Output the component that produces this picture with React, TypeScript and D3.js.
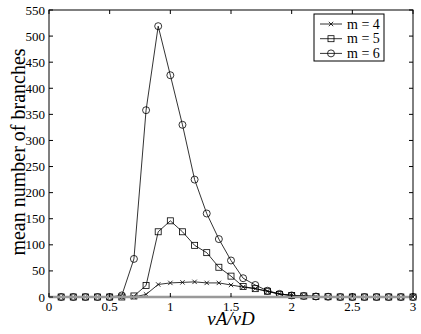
import React from "react";
import * as d3 from "d3";

const xs = [0.1, 0.2, 0.3, 0.4, 0.5, 0.6, 0.7, 0.8, 0.9, 1.0, 1.1, 1.2, 1.3, 1.4, 1.5, 1.6, 1.7, 1.8, 1.9, 2.0, 2.1, 2.2, 2.3, 2.4, 2.5, 2.6, 2.7, 2.8, 2.9, 3.0];
const m4 = [0, 0, 0, 0, 0, 0, 0, 5, 24, 27, 28, 29, 27, 27, 23, 19, 16, 11, 6, 3, 2, 1, 0.5, 0, 0, 0, 0, 0, 0, 0];
const m5 = [0, 0, 0, 0, 0, 0, 2, 22, 125, 146, 125, 99, 85, 57, 40, 20, 16, 11, 5, 3, 2, 1, 0.5, 0, 0, 0, 0, 0, 0, 0];
const m6 = [0, 0, 0, 0, 0, 3, 73, 358, 519, 425, 330, 225, 160, 111, 70, 36, 23, 12, 6, 3, 2, 1, 0.5, 0, 0, 0, 0, 0, 0, 0];
const xTicks = [0, 0.5, 1, 1.5, 2, 2.5, 3];
const yTicks = [0, 50, 100, 150, 200, 250, 300, 350, 400, 450, 500, 550];
const seriesNames = ["m = 4", "m = 5", "m = 6"];

const font = '"Liberation Serif"';

const Marker = ({ kind, x, y }: { kind: number; x: number; y: number }) => {
  if (kind === 0) {
    return (
      <path
        d={`M${x - 2.2},${y - 2.2}L${x + 2.2},${y + 2.2}M${x - 2.2},${y + 2.2}L${x + 2.2},${y - 2.2}`}
        stroke="#000"
        strokeWidth={0.8}
      />
    );
  }
  if (kind === 1) {
    return <rect x={x - 3} y={y - 3} width={6} height={6} fill="none" stroke="#000" strokeWidth={0.8} />;
  }
  return <circle cx={x} cy={y} r={3.5} fill="none" stroke="#000" strokeWidth={0.8} />;
};

export default function App() {
  const left = 49, right = 413, top = 10, bottom = 297;
  const x = d3.scaleLinear().domain([0, 3]).range([left, right]);
  const y = d3.scaleLinear().domain([0, 550]).range([bottom, top]);
  const series = [m4, m5, m6];
  const line = d3
    .line<number>()
    .x((_, i) => x(xs[i]))
    .y((d) => y(d));

  return (
    <div style={{ position: "absolute", left: 0, top: 0 }}>
      <svg width={421} height={334} style={{ display: "block", background: "#fff", fontFamily: font }}>
        {/* data */}
        {series.map((s, k) => (
          <g key={k}>
            <path d={line(s) || ""} fill="none" stroke="#000" strokeWidth={0.8} />
            {s.map((v, i) => (
              <Marker key={i} kind={k} x={x(xs[i])} y={y(v)} />
            ))}
          </g>
        ))}

        {/* frame */}
        <rect x={left} y={top} width={right - left} height={bottom - top} fill="none" stroke="#000" strokeWidth={1} />
        <line x1={left} x2={right} y1={bottom} y2={bottom} stroke="#999" strokeWidth={2.5} />

        {/* x ticks */}
        {xTicks.map((t) => (
          <g key={t}>
            <line x1={x(t)} x2={x(t)} y1={bottom} y2={bottom - 4} stroke="#000" />
            <line x1={x(t)} x2={x(t)} y1={top} y2={top + 4} stroke="#000" />
            <text x={x(t)} y={310.5} textAnchor="middle" fontSize={13} style={{ fontFamily: font }}>
              {t}
            </text>
          </g>
        ))}

        {/* y ticks */}
        {yTicks.map((t) => (
          <g key={t}>
            <line x1={left} x2={left + 4} y1={y(t)} y2={y(t)} stroke="#000" />
            <line x1={right} x2={right - 4} y1={y(t)} y2={y(t)} stroke="#000" />
            <text x={left - 4} y={y(t) + 4.5} textAnchor="end" fontSize={13} style={{ fontFamily: font }}>
              {t}
            </text>
          </g>
        ))}

        {/* axis titles */}
        <text x={231} y={324.5} textAnchor="middle" fontSize={19} fontStyle="italic" style={{ fontFamily: font }}>
          vA/vD
        </text>
        <text
          transform={`translate(25,152) rotate(-90)`}
          textAnchor="middle"
          fontSize={20}
          style={{ fontFamily: font }}
        >
          mean number of branches
        </text>

        {/* legend */}
        <rect x={314} y={14} width={70} height={47} fill="#fff" stroke="#000" strokeWidth={1} />
        {seriesNames.map((n, k) => {
          const ly = 24 + k * 14.7;
          return (
            <g key={n}>
              <line x1={320} x2={342} y1={ly} y2={ly} stroke="#000" strokeWidth={0.8} />
              <Marker kind={k} x={331} y={ly} />
              <text x={347} y={ly + 4.5} fontSize={14} style={{ fontFamily: font }}>
                {n}
              </text>
            </g>
          );
        })}
      </svg>
    </div>
  );
}
